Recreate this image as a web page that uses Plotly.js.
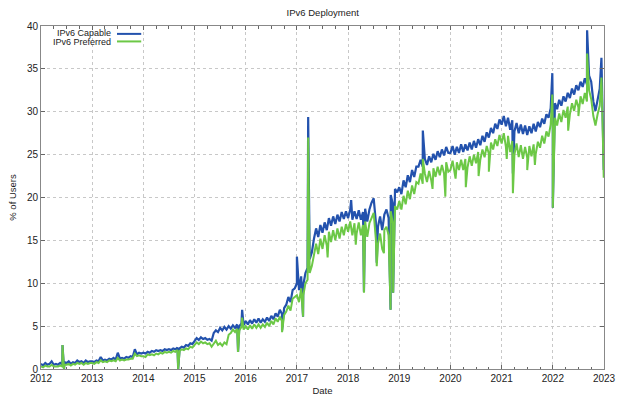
<!DOCTYPE html>
<html>
<head>
<meta charset="utf-8">
<script src="https://cdn.plot.ly/plotly-3.0.1.min.js"></script>
<style>
  html, body { margin: 0; padding: 0; background: #fff; }
  #chart { width: 628px; height: 399px; }
</style>
</head>
<body>
<div id="chart"></div>
<script>
// Semi-monthly samples (24 per year) starting 2012.0
const START_YEAR = 2012;
const PER_YEAR = 24;

const capableBand = [
  // 2012
  0.6,0.4,0.7,0.5,0.6,0.9,0.5,0.6,0.5,0.7,0.5,0.8,0.7,0.9,0.6,0.8,0.7,1.0,0.8,0.9,0.7,1.0,0.8,0.9,
  // 2013
  0.9,0.8,1.0,0.9,1.4,1.0,1.1,1.0,1.2,1.1,1.3,1.1,1.9,1.2,1.3,1.2,1.4,1.3,1.5,1.4,2.3,1.7,1.9,1.8,
  // 2014
  1.9,1.8,2.0,1.9,2.1,2.0,2.2,2.1,2.2,2.1,2.3,2.2,2.3,2.2,2.4,2.3,2.5,2.4,2.6,2.5,2.8,2.7,3.0,2.9,
  // 2015
  3.3,3.6,3.4,3.7,3.5,3.6,3.4,3.5,3.3,4.2,4.5,4.3,4.8,4.5,4.9,4.6,5.0,4.7,5.1,4.8,5.2,5.0,5.3,5.1,
  // 2016
  5.6,5.2,5.7,5.3,5.8,5.4,5.9,5.4,5.8,5.5,6.0,5.6,6.2,5.8,6.5,6.1,6.9,6.4,7.1,7.5,8.4,7.8,9.2,9.4,
  // 2017
  10.0,9.2,10.8,9.8,11.2,11.8,12.8,13.6,15.2,16.4,15.4,16.8,15.9,17.1,16.2,17.6,16.7,17.8,16.9,18.0,17.2,18.3,17.5,18.4,
  // 2018
  17.6,18.6,17.4,18.4,17.5,18.5,17.4,18.3,18.7,17.2,18.6,19.4,19.9,17.2,16.6,17.8,16.2,18.0,18.6,17.6,20.3,19.2,21.0,20.6,
  // 2019
  21.2,20.4,22.0,21.2,22.6,21.8,23.2,22.4,23.6,23.6,24.4,23.6,24.5,23.8,24.8,24.1,25.1,24.4,25.4,24.7,25.6,24.9,25.9,25.2,
  // 2020
  25.2,26.0,25.0,25.9,25.2,26.2,25.3,26.2,25.5,26.4,25.6,26.6,25.8,26.8,26.1,27.2,26.5,27.6,27.0,28.1,27.5,28.6,28.0,29.1,
  // 2021
  28.5,29.5,28.3,29.3,27.9,29.0,27.7,28.7,27.5,28.5,27.4,28.4,27.3,28.3,27.5,28.6,27.7,28.8,28.2,29.2,28.6,29.7,29.3,30.4,
  // 2022
  29.9,31.0,30.3,31.4,30.7,31.8,31.2,32.2,31.6,32.7,32.0,33.1,32.5,33.5,32.9,33.9,33.2,34.2,33.5,31.2,30.1,31.4,32.7,34.0
];

const preferredBand = [
  // 2012
  0.3,0.2,0.4,0.3,0.3,0.5,0.3,0.3,0.3,0.4,0.3,0.5,0.5,0.6,0.4,0.6,0.5,0.7,0.6,0.7,0.5,0.7,0.6,0.7,
  // 2013
  0.7,0.6,0.8,0.7,1.0,0.8,0.9,0.8,1.0,0.9,1.0,0.9,1.3,1.0,1.1,1.0,1.1,1.1,1.2,1.2,1.8,1.5,1.6,1.5,
  // 2014
  1.5,1.4,1.7,1.6,1.7,1.6,1.8,1.7,1.9,1.8,2.0,1.9,2.0,1.9,2.1,2.0,2.2,2.1,2.3,2.2,2.4,2.3,2.6,2.5,
  // 2015
  2.8,3.1,2.9,3.2,3.0,3.1,2.9,3.0,2.6,3.0,3.3,2.8,3.0,2.7,3.1,2.9,4.0,4.2,4.6,4.3,4.7,4.5,4.9,4.6,
  // 2016
  5.0,4.6,5.1,4.7,5.2,4.8,5.2,4.8,5.2,4.9,5.4,5.0,5.6,5.2,5.9,5.5,6.1,5.6,6.3,6.7,7.4,6.8,8.2,8.4,
  // 2017
  8.6,7.8,9.4,8.6,10.0,10.4,11.2,12.0,13.4,14.6,13.4,15.2,14.0,15.6,14.4,16.0,14.8,16.2,15.0,16.4,15.2,16.6,15.6,16.9,
  // 2018
  16.0,17.2,15.6,17.0,15.8,17.1,15.6,16.8,17.2,15.4,17.0,17.6,18.2,15.2,14.6,15.8,14.0,16.2,16.6,15.6,18.4,17.0,19.0,18.6,
  // 2019
  19.6,18.6,20.2,19.2,20.8,19.8,21.4,20.4,21.8,21.6,22.8,21.6,22.8,21.8,23.1,22.0,23.4,22.4,23.6,22.6,23.8,22.8,24.1,23.0,
  // 2020
  23.2,24.3,22.9,24.1,23.2,24.4,23.2,24.5,23.5,24.8,23.7,25.0,24.0,25.3,24.4,25.6,24.7,26.0,25.1,26.4,25.6,26.8,26.0,27.3,
  // 2021
  26.3,27.5,25.9,27.2,25.3,26.6,25.0,26.3,24.7,26.1,24.5,25.9,24.6,26.0,24.8,26.2,25.1,26.5,25.8,27.2,26.3,27.7,27.1,28.5,
  // 2022
  27.9,29.3,28.4,29.8,28.8,30.2,29.3,30.6,29.7,31.0,30.1,31.4,30.5,31.8,30.9,32.2,31.2,32.5,31.5,29.5,28.4,29.7,30.7,32.4
];

// Single-day spikes and dips (decimal year, % of users)
const capableSpikeDates = [2012.42, 2012.45, 2014.68, 2015.85, 2015.93, 2016.71, 2017.0, 2017.12, 2017.22, 2018.06, 2018.31, 2018.56, 2018.83, 2018.88, 2019.46, 2021.22, 2021.99, 2022.0, 2022.67, 2022.95, 2022.995];
const capableSpikeValues = [2.8, 0.0, 0.0, 2.0, 6.9, 4.5, 13.1, 6.1, 29.4, 19.7, 9.0, 12.4, 6.9, 8.9, 27.8, 22.8, 34.5, 18.8, 39.5, 36.3, 23.2];

const preferredSpikeDates = [2012.42, 2012.45, 2014.68, 2015.85, 2015.93, 2016.71, 2017.12, 2017.22, 2017.6, 2018.15, 2018.31, 2018.56, 2018.7, 2018.83, 2018.88, 2019.2, 2019.46, 2019.65, 2019.9, 2020.1, 2020.3, 2020.55, 2020.75, 2021.1, 2021.22, 2021.5, 2021.65, 2021.99, 2022.0, 2022.3, 2022.5, 2022.67, 2022.95, 2022.995];
const preferredSpikeValues = [2.8, 0.0, 0.0, 2.0, 6.0, 4.3, 6.1, 27.0, 13.0, 14.5, 8.9, 12.0, 13.5, 6.9, 8.9, 20.0, 24.5, 21.0, 20.1, 22.2, 21.2, 22.5, 23.0, 24.5, 20.5, 23.2, 23.8, 32.0, 18.8, 27.8, 29.5, 36.8, 34.0, 22.3];

const yearTicks = [2012, 2013, 2014, 2015, 2016, 2017, 2018, 2019, 2020, 2021, 2022, 2023];
const seriesNames = ['IPv6 Capable', 'IPv6 Preferred'];

function buildSeries(band, spikeDates, spikeValues) {
  const pts = band.map((v, i) => [START_YEAR + i / PER_YEAR, v]);
  spikeDates.forEach((d, j) => pts.push([d, spikeValues[j]]));
  pts.sort((a, b) => a[0] - b[0]);
  return { x: pts.map(p => p[0]), y: pts.map(p => p[1]) };
}

const capS = buildSeries(capableBand, capableSpikeDates, capableSpikeValues);
const prefS = buildSeries(preferredBand, preferredSpikeDates, preferredSpikeValues);

const BLUE = '#2352ad';
const GREEN = '#6cc846';

const traces = [
  { x: capS.x, y: capS.y, type: 'scatter', mode: 'lines', name: seriesNames[0],
    line: { color: BLUE, width: 2.2 }, showlegend: false },
  { x: prefS.x, y: prefS.y, type: 'scatter', mode: 'lines', name: seriesNames[1],
    line: { color: GREEN, width: 2.0 }, showlegend: false }
];

const FONT = 'Liberation Sans, Arial, sans-serif';

const layout = {
  width: 628, height: 399,
  margin: { l: 41, r: 24, t: 26, b: 30 },
  paper_bgcolor: '#fff', plot_bgcolor: '#fff',
  font: { family: FONT, size: 10, color: '#222' },
  title: { text: 'IPv6 Deployment', x: 0.514, xanchor: 'center', y: 0.968, yanchor: 'middle',
           font: { family: FONT, size: 9.5, color: '#222' } },
  xaxis: {
    range: [2012, 2023], tickvals: yearTicks, ticktext: yearTicks.map(String),
    ticks: 'inside', ticklen: 4, tickcolor: '#666',
    minor: { dtick: 0.25, tick0: 2012, ticks: 'inside', ticklen: 2.5, tickcolor: '#666', showgrid: false },
    showgrid: true, gridcolor: '#c8c8c8', griddash: 'dot', gridwidth: 1,
    showline: true, linecolor: '#888', linewidth: 1, mirror: 'ticks',
    zeroline: false, tickfont: { size: 10 },
    title: { text: 'Date', standoff: 4, font: { size: 9.5 } }, automargin: false
  },
  yaxis: {
    range: [0, 40], dtick: 5, tick0: 0,
    ticks: 'inside', ticklen: 4, tickcolor: '#666',
    showgrid: true, gridcolor: '#c8c8c8', griddash: 'dot', gridwidth: 1,
    showline: true, linecolor: '#888', linewidth: 1, mirror: 'ticks',
    zeroline: false, tickfont: { size: 10 },
    title: { text: '% of Users', standoff: 8, font: { size: 9.5 } }, automargin: false
  },
  annotations: [
    { xref: 'paper', yref: 'paper', x: 0.128, y: 0.979, xanchor: 'right', yanchor: 'middle',
      text: seriesNames[0], showarrow: false, font: { family: FONT, size: 9, color: '#222' } },
    { xref: 'paper', yref: 'paper', x: 0.128, y: 0.953, xanchor: 'right', yanchor: 'middle',
      text: seriesNames[1], showarrow: false, font: { family: FONT, size: 9, color: '#222' } }
  ],
  shapes: [
    { type: 'line', xref: 'paper', yref: 'paper', x0: 0.135, x1: 0.178, y0: 0.977, y1: 0.977,
      line: { color: BLUE, width: 2 } },
    { type: 'line', xref: 'paper', yref: 'paper', x0: 0.135, x1: 0.178, y0: 0.955, y1: 0.955,
      line: { color: GREEN, width: 2 } }
  ],
  showlegend: false
};

Plotly.newPlot('chart', traces, layout, { displayModeBar: false, staticPlot: true });
</script>
</body>
</html>
